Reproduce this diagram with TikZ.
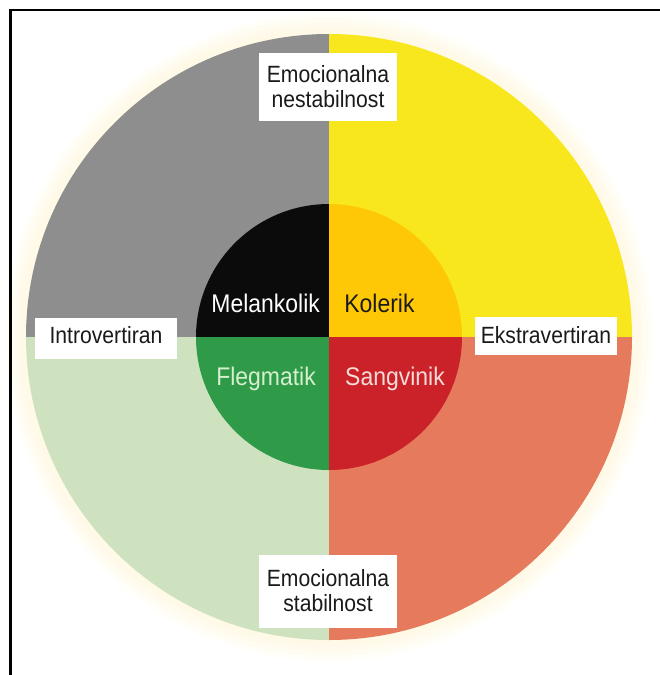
\documentclass[tikz,border=0pt]{standalone}
\usepackage{fontspec}
\setmainfont{Liberation Sans}[FakeStretch=0.9]
\definecolor{qgray}{HTML}{8E8E8E}
\definecolor{qyellow}{HTML}{F8E71C}
\definecolor{qgreen}{HTML}{CFE2BF}
\definecolor{qsalmon}{HTML}{E57B5C}
\definecolor{iblack}{HTML}{0B0B0B}
\definecolor{igold}{HTML}{FEC806}
\definecolor{igreen}{HTML}{2F9B48}
\definecolor{ired}{HTML}{CB2128}
\definecolor{cream}{HTML}{FFF8E2}
\definecolor{labtext}{HTML}{1A1A1A}
\definecolor{flegtext}{HTML}{D5EFCF}
\definecolor{sangtext}{HTML}{F6DCD8}
\begin{document}
\begin{tikzpicture}[x=1pt,y=-1pt,
  axislabel/.style={fill=white, inner sep=0pt, align=center, text=labtext,
    font=\fontsize{23.5}{25}\selectfont},
  typelabel/.style={anchor=base, inner sep=0pt, font=\fontsize{25.5}{27}\selectfont}]
\useasboundingbox (0,0) rectangle (660,675);
% faint glow
\foreach \r/\o in {324/0.2,319/0.3,314/0.4,309/0.5}{
  \fill[cream, opacity=\o] (329,337) circle[radius=\r pt];
}
% outer quadrants
\begin{scope}
  \clip (329,337) circle[radius=303pt];
  \fill[qgray] (0,0) rectangle (329,337);
  \fill[qyellow] (329,0) rectangle (660,337);
  \fill[qgreen] (0,337) rectangle (329,675);
  \fill[qsalmon] (329,337) rectangle (660,675);
\end{scope}
% inner quadrants
\begin{scope}
  \clip (329,337) circle[radius=133pt];
  \fill[iblack] (0,0) rectangle (329,337);
  \fill[igold] (329,0) rectangle (660,337);
  \fill[igreen] (0,337) rectangle (329,675);
  \fill[ired] (329,337) rectangle (660,675);
\end{scope}
% frame (top and left)
\draw[line width=2.5pt] (10.5,675) -- (10.5,10) -- (660,10);
% type labels
\node[typelabel, text=white] (mel) at (265.7,312.7) {Melankolik};
\node[typelabel, text=labtext] (kol) at (379.5,312.5) {Kolerik};
\node[typelabel, text=flegtext] (fle) at (266,385) {Flegmatik};
\node[typelabel, text=sangtext] (san) at (395,385) {Sangvinik};
% axis labels
\node[axislabel, minimum width=138pt, minimum height=68pt] (nest) at (328,87) {Emocionalna\\nestabilnost};
\node[axislabel, minimum width=138pt, minimum height=73pt] (stab) at (328,591) {Emocionalna\\stabilnost};
\node[axislabel, minimum width=142pt, minimum height=41pt, text height=14pt, text depth=5pt] (intro) at (106,338.5) {Introvertiran};
\node[axislabel, minimum width=142pt, minimum height=38pt, text height=16pt, text depth=2pt] (ekstra) at (546,336) {Ekstravertiran};
\end{tikzpicture}
\end{document}
